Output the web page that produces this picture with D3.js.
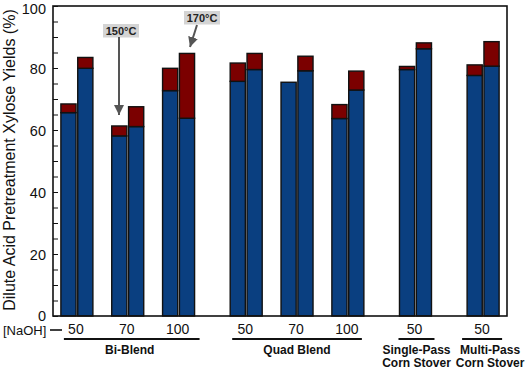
<!DOCTYPE html>
<html>
<head>
<meta charset="utf-8">
<script src="https://cdn.jsdelivr.net/npm/d3@7"></script>
<style>
    html, body { margin: 0; padding: 0; background: #fff; }
    svg { display: block; font-family: "Liberation Sans", Arial, Helvetica, sans-serif; }
</style>
</head>
<body>
<svg id="chart" width="526" height="371"></svg>
<script>
// feedstock / NaOH conditions, left to right
const naohLabels = ['50', '70', '100', '50', '70', '100', '50', '50'];
const groupOf = [0, 0, 0, 1, 1, 1, 2, 3];
const groupNames = [['Bi-Blend'], ['Quad Blend'], ['Single-Pass', 'Corn Stover'], ['Multi-Pass', 'Corn Stover']];

// first bar of each pair
const blueFirst = [65.6, 58.1, 72.7, 75.7, 75.4, 63.7, 79.5, 77.6];
const redFirst = [2.8, 3.2, 7.2, 5.9, 0, 4.5, 1.0, 3.4];
// second bar of each pair
const blueSecond = [79.9, 61.1, 63.8, 79.5, 79.1, 72.9, 86.2, 80.6];
const redSecond = [3.5, 6.4, 20.9, 5.2, 4.7, 6.1, 1.9, 7.9];

const yTicks = [0, 20, 40, 60, 80, 100];

const BLUE = '#0a3f80';
const RED = '#7b0000';
const INK = '#111';

const svg = d3.select('#chart');
const margin = { top: 6, right: 19, bottom: 55, left: 53 };
const width = 526 - margin.left - margin.right;
const height = 371 - margin.top - margin.bottom;

// slot positions: groups separated by a wider gap
const GROUP_GAP = 0.33;
const slots = groupOf.map((grp, i) => i + grp * GROUP_GAP);

const x = d3.scaleLinear()
    .domain([-0.47, 8.46])
    .range([0, width]);

const y = d3.scaleLinear()
    .domain([0, 100])
    .range([height, 0]);

const inner = d3.scaleBand()
    .domain([0, 1])
    .range([-16, 16])
    .paddingInner(0.1);

const g = svg.append('g').attr('transform', `translate(${margin.left},${margin.top})`);

const bars = [];
slots.forEach((slot, i) => {
    bars.push({ slot, k: 0, blue: blueFirst[i], red: redFirst[i] });
    bars.push({ slot, k: 1, blue: blueSecond[i], red: redSecond[i] });
});

const barGroup = g.append('g');
barGroup.selectAll('.blue')
    .data(bars)
    .enter()
    .append('rect')
    .attr('x', (d) => x(d.slot) + inner(d.k))
    .attr('width', inner.bandwidth())
    .attr('y', (d) => y(d.blue))
    .attr('height', (d) => y(0) - y(d.blue))
    .attr('fill', BLUE)
    .attr('stroke', INK)
    .attr('stroke-width', 1.4);

barGroup.selectAll('.red')
    .data(bars.filter((d) => d.red > 0))
    .enter()
    .append('rect')
    .attr('x', (d) => x(d.slot) + inner(d.k))
    .attr('width', inner.bandwidth())
    .attr('y', (d) => y(d.blue + d.red))
    .attr('height', (d) => y(d.blue) - y(d.blue + d.red))
    .attr('fill', RED)
    .attr('stroke', INK)
    .attr('stroke-width', 1.4);

// frame
g.append('rect')
    .attr('width', width)
    .attr('height', height)
    .attr('fill', 'none')
    .attr('stroke', INK)
    .attr('stroke-width', 1.6);

// y axis with inward ticks every 5
g.append('g')
    .call(d3.axisLeft(y).tickValues(d3.range(0, 101, 5)).tickSize(-5).tickFormat(''))
    .call((a) => a.select('.domain').remove())
    .call((a) => a.selectAll('line').attr('stroke', INK).attr('stroke-width', 1));

g.append('g')
    .call(d3.axisLeft(y).tickValues(yTicks).tickSize(0).tickPadding(7))
    .call((a) => a.select('.domain').remove())
    .call((a) => a.selectAll('text')
        .attr('font-size', 14.5)
        .attr('font-family', '"Liberation Sans", Arial, sans-serif')
        .attr('dy', (d) => (d === 100 ? '0.55em' : d === 0 ? '0.3em' : '0.35em'))
        .attr('fill', INK));

// y axis title
svg.append('text')
    .attr('transform', 'translate(15,160) rotate(-90)')
    .attr('text-anchor', 'middle')
    .attr('font-size', 16)
    .attr('fill', INK)
    .text('Dilute Acid Pretreatment Xylose Yields (%)');

// NaOH loading labels
const bottom = g.append('g').attr('transform', `translate(0,${height})`);
bottom.append('text')
    .attr('x', -50)
    .attr('y', 18.5)
    .attr('font-size', 13)
    .attr('fill', INK)
    .text('[NaOH]');
bottom.append('line')
    .attr('x1', -3)
    .attr('x2', 9)
    .attr('y1', 14)
    .attr('y2', 14)
    .attr('stroke', INK)
    .attr('stroke-width', 1.6);

bottom.selectAll('.naoh')
    .data(naohLabels)
    .enter()
    .append('text')
    .attr('x', (d, i) => x(slots[i]) - 1)
    .attr('y', 18)
    .attr('text-anchor', 'middle')
    .attr('font-size', 14)
    .attr('fill', INK)
    .text((d) => d);

// group underlines and names (pixel offsets from the outer slot centres)
const lineLeft = [13, 14, 17, 21];
const lineRight = [21, 14, 19, 19];
const nameShift = [2, 0, 1, 7];
groupNames.forEach((names, gi) => {
    const members = slots.filter((s, i) => groupOf[i] === gi);
    const lo = d3.min(members);
    const hi = d3.max(members);
    bottom.append('line')
        .attr('x1', x(lo) - lineLeft[gi])
        .attr('x2', x(hi) + lineRight[gi])
        .attr('y1', 23)
        .attr('y2', 23)
        .attr('stroke', INK)
        .attr('stroke-width', 2.2);
    names.forEach((name, li) => {
        bottom.append('text')
            .attr('x', (x(lo) + x(hi)) / 2 + nameShift[gi])
            .attr('y', 38 + li * 12.5)
            .attr('text-anchor', 'middle')
            .attr('font-size', 12)
            .attr('font-weight', 'bold')
            .attr('fill', INK)
            .text(name);
    });
});

// temperature call-outs
const callouts = [
    { label: '150°C', bx: 121, by: 24, x1: 119, y1: 37, x2: 119, y2: 115 },
    { label: '170°C', bx: 202, by: 11, x1: 197, y1: 25, x2: 190, y2: 47 }
];

const defs = svg.append('defs');
defs.append('marker')
    .attr('id', 'arrow')
    .attr('viewBox', '0 0 10 10')
    .attr('refX', 10)
    .attr('refY', 5)
    .attr('markerWidth', 5)
    .attr('markerHeight', 5)
    .attr('markerUnits', 'strokeWidth')
    .attr('orient', 'auto')
    .append('path')
    .attr('d', 'M0,0 L10,5 L0,10 Z')
    .attr('fill', '#555');

callouts.forEach((c) => {
    svg.append('rect')
        .attr('x', c.bx - 18)
        .attr('y', c.by)
        .attr('width', 36)
        .attr('height', 13.5)
        .attr('fill', '#d4d4d4');
    svg.append('text')
        .attr('x', c.bx)
        .attr('y', c.by + 10.5)
        .attr('text-anchor', 'middle')
        .attr('font-size', 11)
        .attr('font-weight', 'bold')
        .attr('fill', '#222')
        .text(c.label);
    svg.append('line')
        .attr('x1', c.x1)
        .attr('y1', c.y1)
        .attr('x2', c.x2)
        .attr('y2', c.y2)
        .attr('stroke', '#555')
        .attr('stroke-width', 2)
        .attr('marker-end', 'url(#arrow)');
});
</script>
</body>
</html>
